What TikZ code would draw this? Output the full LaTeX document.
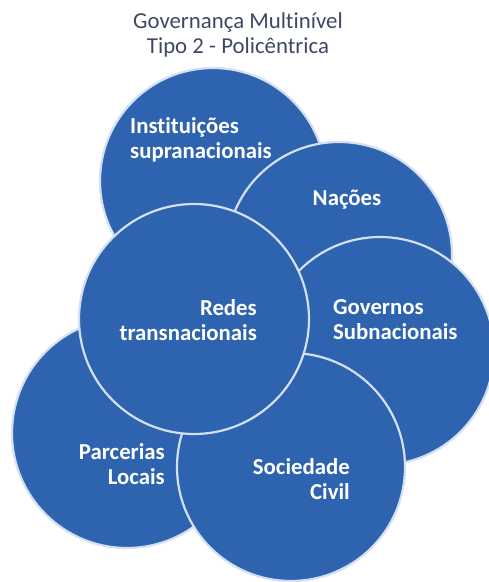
\documentclass[tikz,border=0pt]{standalone}
\usepackage{fontspec}
\setmainfont{Carlito}[Ligatures=NoCommon]
\definecolor{circfill}{RGB}{46,99,176}
\definecolor{circline}{RGB}{212,224,242}
\definecolor{titlecol}{RGB}{62,72,98}
\begin{document}
\begin{tikzpicture}[x=1pt,y=-1pt,
  circ/.style={circle, fill=circfill, draw=circline, line width=2.2pt, minimum size=#1, inner sep=0pt},
  lbl/.style={text=white, font=\fontsize{22.8}{25}\selectfont\bfseries, inner sep=0pt},
  ttl/.style={text=titlecol, font=\fontsize{22.8}{25}\selectfont, inner sep=0pt, align=center}]
\useasboundingbox (0,0) rectangle (489,582);
\node[circ=226pt] (cA) at (213,181) {};
\node[circ=226pt] (cB) at (339,255) {};
\node[circ=228pt] (cC) at (380,351) {};
\node[circ=230pt] (cE) at (127,433) {};
\node[circ=228pt] (cF) at (291,467) {};
\node[circ=230pt] (cD) at (194,319) {};
\node[ttl] (title) at (238,35) {Governança Multinível\\Tipo 2 - Policêntrica};
\node[lbl, align=left, anchor=west] (tA) at (130,139.5) {Instituições\\supranacionais};
\node[lbl] (tB) at (347,200) {Nações};
\node[lbl, align=right, anchor=east] (tD) at (257,320.5) {Redes\\transnacionais};
\node[lbl, align=left, anchor=west] (tC) at (333,319.5) {Governos\\Subnacionais};
\node[lbl, align=right, anchor=east] (tE) at (165,464.5) {Parcerias\\Locais};
\node[lbl, align=right, anchor=east] (tF) at (350,479.5) {Sociedade\\Civil};
\end{tikzpicture}
\end{document}
